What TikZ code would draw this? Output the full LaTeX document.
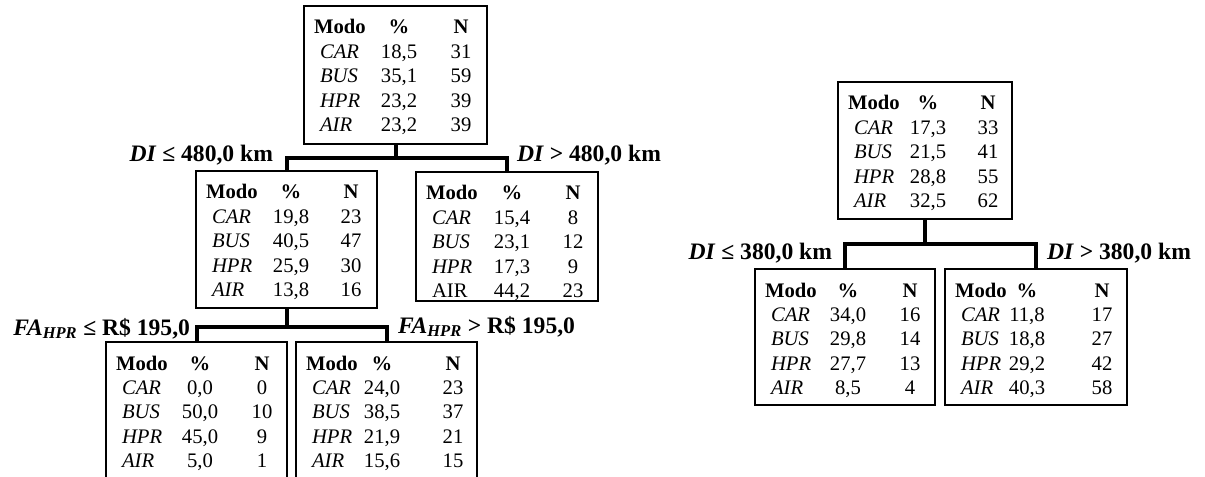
\documentclass[tikz,border=0pt]{standalone}
\usepackage{fontspec}
\setmainfont{Liberation Serif}
\usetikzlibrary{calc}
\tikzset{
  tbox/.style={draw, line width=1.5pt, inner sep=0pt, outer sep=0pt},
  cell/.style={inner sep=0pt, outer sep=0pt, font=\fontsize{15.5pt}{18pt}\selectfont},
  lbl/.style={inner sep=0pt, outer sep=0pt, font=\fontsize{17.7pt}{20pt}\selectfont\bfseries},
  conn/.style={line width=3pt, line join=miter}
}
\newcommand\modetab[8]{%
  \node[tbox, minimum width=#4*0.75pt, minimum height=#5*0.75pt, anchor=north west] (#1) at (#2,#3) {};
  \node[cell, anchor=base west] (#1-h1) at ($(#1.north west)+(10,28)$) {\textbf{Modo}};
  \node[cell, anchor=base] (#1-h2) at ($(#1.north west)+(#6,28)$) {\textbf{\%}};
  \node[cell, anchor=base] (#1-h3) at ($(#1.north west)+(#7,28)$) {\textbf{N}};
  \foreach \mm/\pp/\nn [count=\ii] in {#8} {
    \node[cell, anchor=base west] (#1-r\ii a) at ($(#1.north west)+(16,28+24.4*\ii)$) {\mm};
    \node[cell, anchor=base] (#1-r\ii b) at ($(#1.north west)+(#6,28+24.4*\ii)$) {\pp};
    \node[cell, anchor=base] (#1-r\ii c) at ($(#1.north west)+(#7,28+24.4*\ii)$) {\nn};
  }
}
\begin{document}
\begin{tikzpicture}[x=0.75pt, y=-0.75pt]
\useasboundingbox (0,0) rectangle (1205,477);
\clip (0,0) rectangle (1205,477);

% Left tree
\modetab{L0}{304}{6}{183}{138}{95}{157}{\textit{CAR}/18{,}5/31, \textit{BUS}/35{,}1/59, \textit{HPR}/23{,}2/39, \textit{AIR}/23{,}2/39}
\modetab{L1}{196}{171}{181}{137}{95}{155}{\textit{CAR}/19{,}8/23, \textit{BUS}/40{,}5/47, \textit{HPR}/25{,}9/30, \textit{AIR}/13{,}8/16}
\modetab{L2}{416}{172}{182}{129}{96}{157}{\textit{CAR}/15{,}4/8, \textit{BUS}/23{,}1/12, \textit{HPR}/17{,}3/9, AIR/44{,}2/23}
\modetab{L3}{106}{342}{181}{170}{94}{156}{\textit{CAR}/0{,}0/0, \textit{BUS}/50{,}0/10, \textit{HPR}/45{,}0/9, \textit{AIR}/5{,}0/1}
\modetab{L4}{296}{342}{181}{170}{86}{157}{\textit{CAR}/24{,}0/23, \textit{BUS}/38{,}5/37, \textit{HPR}/21{,}9/21, \textit{AIR}/15{,}6/15}

\coordinate (b0) at (L0.south |- 0,158);
\draw[conn] (L0.south) -- (b0);
\draw[conn] (L1.north) |- (b0) -| (L2.north);
\coordinate (b1) at (L1.south |- 0,327);
\draw[conn] (L1.south) -- (b1);
\draw[conn] (L3.north) |- (b1) -| (L4.north);

\node[lbl, anchor=base east] (t1) at (273,162) {\textit{DI} ≤ 480,0 km};
\node[lbl, anchor=base west] (t2) at (517,162) {\textit{DI} > 480,0 km};
\node[lbl, anchor=base east] (t3) at (190,335) {\textit{FA}\textsubscript{\textit{HPR}} ≤ R\$ 195,0};
\node[lbl, anchor=base west] (t4) at (398,333) {\textit{FA}\textsubscript{\textit{HPR}} > R\$ 195,0};

% Right tree
\modetab{R0}{838}{82}{174}{137}{90}{150}{\textit{CAR}/17{,}3/33, \textit{BUS}/21{,}5/41, \textit{HPR}/28{,}8/55, \textit{AIR}/32{,}5/62}
\modetab{R1}{755}{269}{180}{136}{93}{155}{\textit{CAR}/34{,}0/16, \textit{BUS}/29{,}8/14, \textit{HPR}/27{,}7/13, \textit{AIR}/8{,}5/4}
\modetab{R2}{945}{269}{182}{136}{82}{157}{\textit{CAR}/11{,}8/17, \textit{BUS}/18{,}8/27, \textit{HPR}/29{,}2/42, \textit{AIR}/40{,}3/58}

\coordinate (b2) at (R0.south |- 0,244);
\draw[conn] (R0.south) -- (b2);
\draw[conn] (R1.north) |- (b2) -| (R2.north);

\node[lbl, anchor=base east] (t5) at (832,259) {\textit{DI} ≤ 380,0 km};
\node[lbl, anchor=base west] (t6) at (1047,259) {\textit{DI} > 380,0 km};
\end{tikzpicture}
\end{document}
